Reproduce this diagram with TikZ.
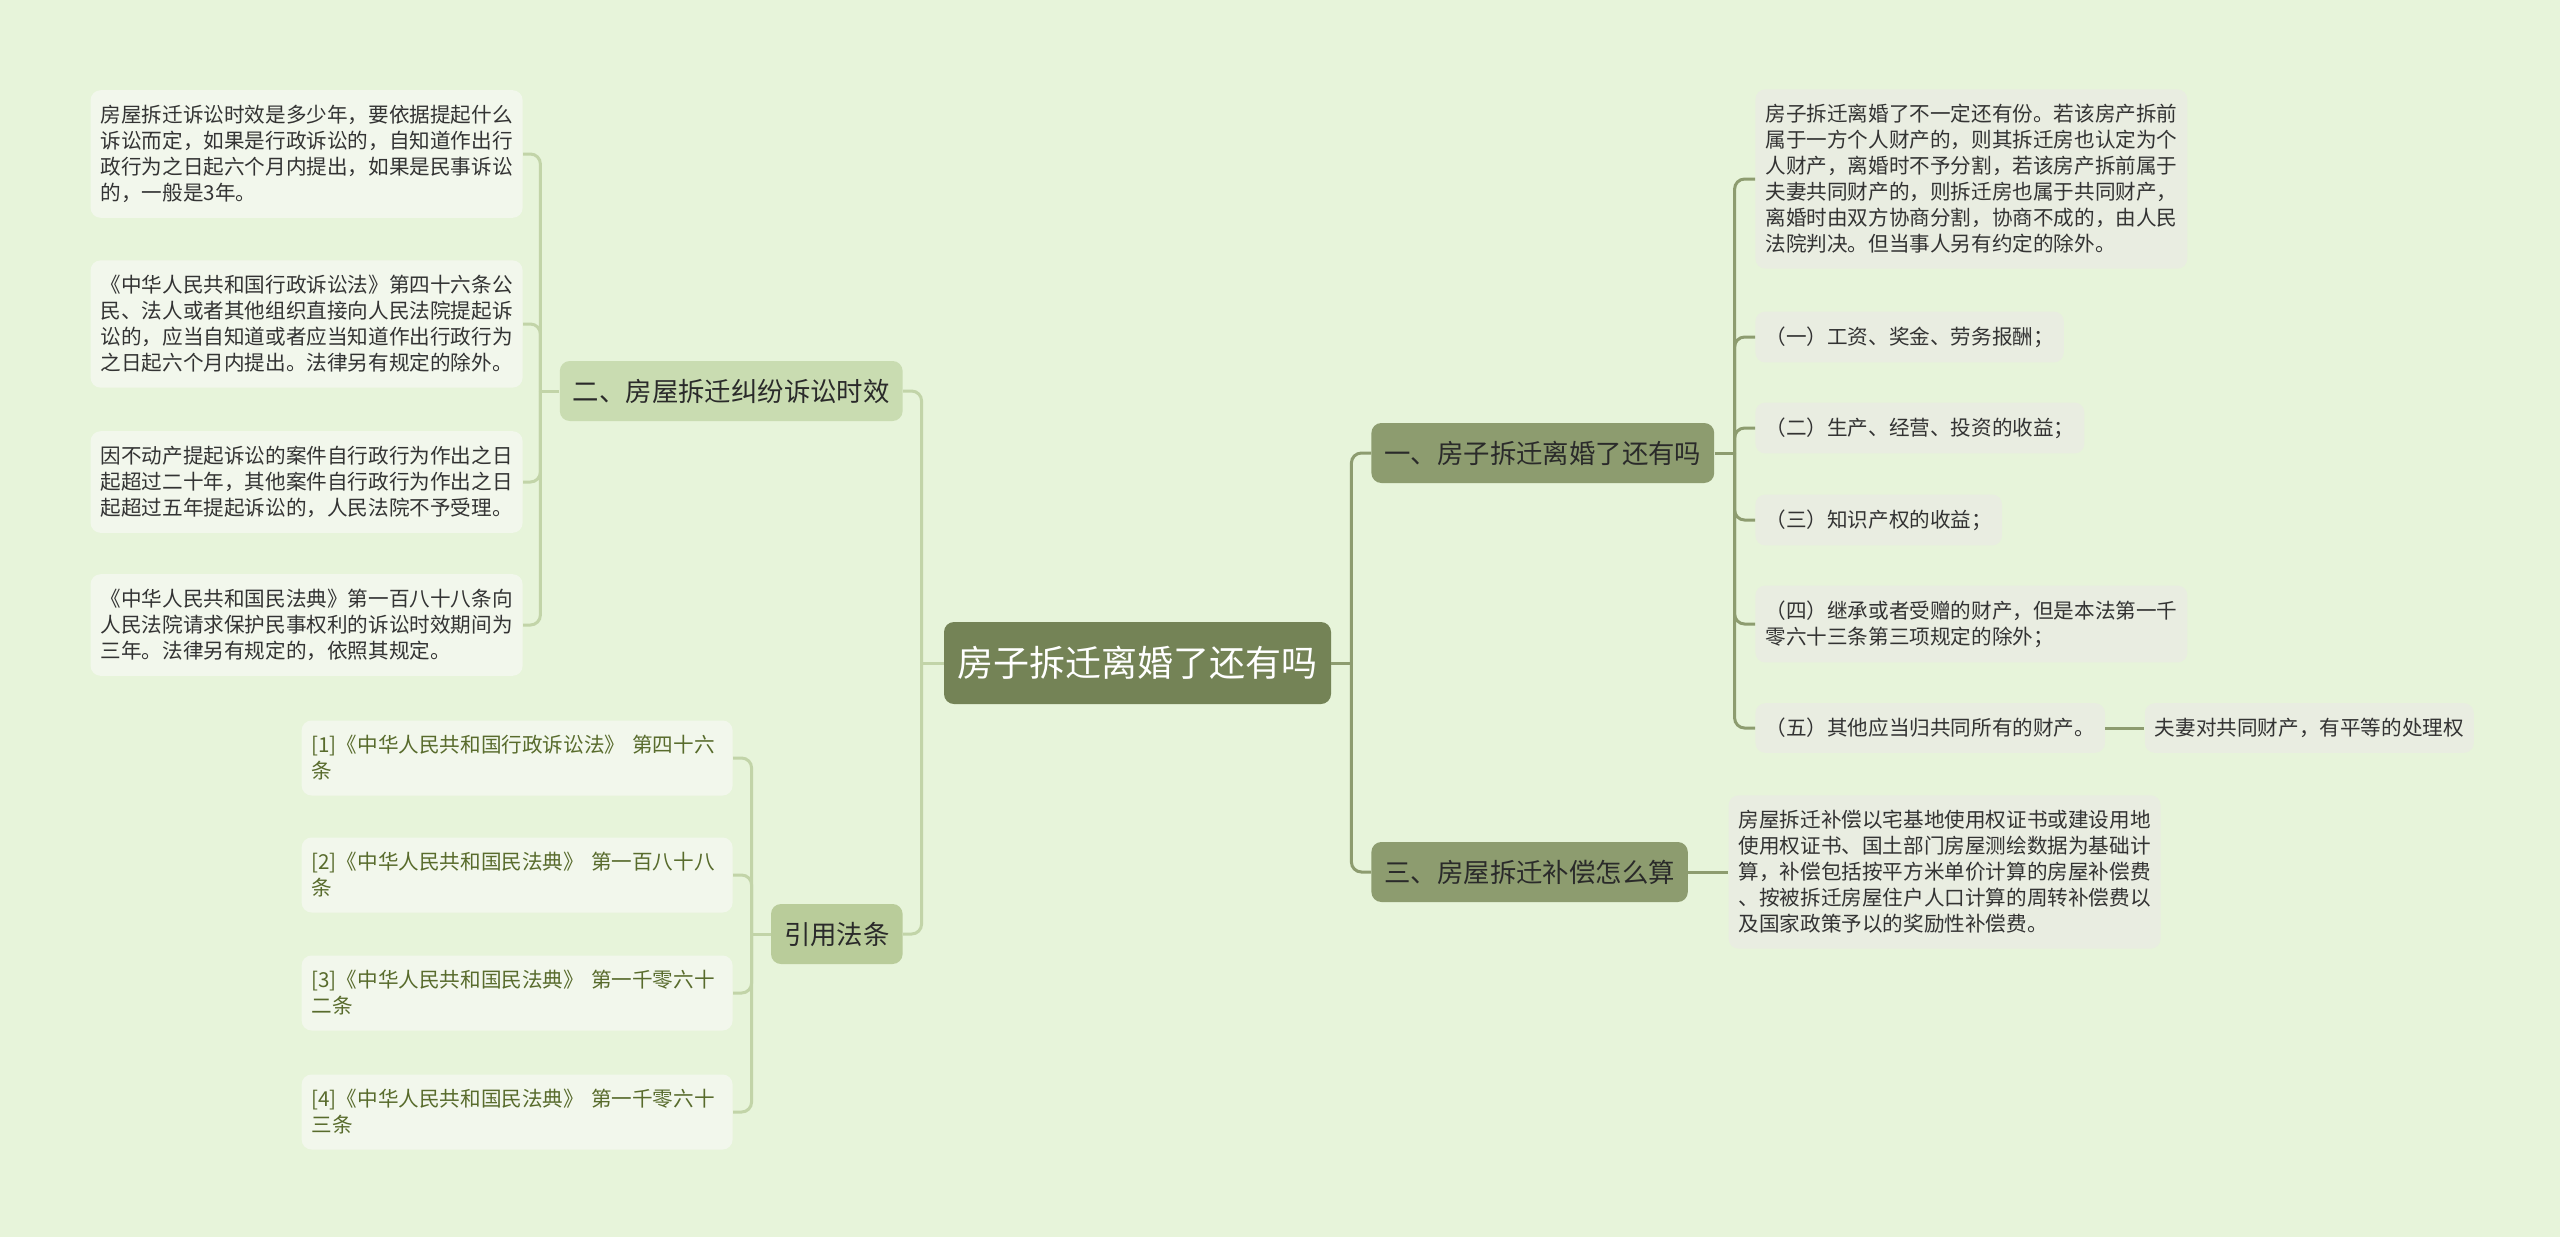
\documentclass[tikz,border=0pt]{standalone}
\usepackage{fontspec}
\setmainfont{Noto Sans CJK SC}
\usetikzlibrary{positioning}
\definecolor{pagebg}{HTML}{E7F4DA}
\definecolor{rootbg}{HTML}{748356}
\definecolor{topicbg}{HTML}{8D9C6F}
\definecolor{lefttopicbg}{HTML}{C9DCB1}
\definecolor{citetopicbg}{HTML}{B9CC9A}
\definecolor{leafbg}{HTML}{F2F7EC}
\definecolor{noteleafbg}{HTML}{E9EDE1}
\definecolor{topictext}{HTML}{2A2A2A}
\definecolor{leaftext}{HTML}{333333}
\definecolor{citetext}{HTML}{586B2C}
\definecolor{linkolive}{HTML}{8D9C6F}
\definecolor{linklight}{HTML}{C2D4A8}
\tikzset{
  box/.style={
    rounded corners=5pt,
    align=left,
    inner xsep=5pt,
    inner ysep=7.5pt,
    minimum height=24pt,
    text=leaftext,
    font=\fontsize{10.3}{13}\selectfont
  },
  rootbox/.style={
    box,
    fill=rootbg,
    text=white,
    align=center,
    inner xsep=0pt,
    minimum width=193.5pt,
    minimum height=41pt,
    font=\fontsize{18}{22}\selectfont
  },
  topicbox/.style={
    box,
    fill=topicbg,
    text=topictext,
    inner xsep=6.5pt,
    inner ysep=5pt,
    minimum height=30pt,
    font=\fontsize{13.2}{16}\selectfont
  },
  lefttopic/.style={
    topicbox,
    fill=lefttopicbg
  },
  citetopic/.style={
    topicbox,
    fill=citetopicbg
  },
  leafbox/.style={
    box,
    fill=leafbg
  },
  noteleaf/.style={
    box,
    fill=noteleafbg
  },
  citebox/.style={
    box,
    fill=leafbg,
    text=citetext,
    text width=205.5pt
  },
  link/.style={
    line width=1.5pt,
    draw=linkolive,
    rounded corners=5pt
  },
  softlink/.style={
    link,
    draw=linklight
  }
}

\begin{document}
\begin{tikzpicture}[x=0.5pt, y=-0.5pt]

\fill[pagebg] (0,0) rectangle (2560,1237);

\node[rootbox] (root) at (1137.5,663) {房子拆迁离婚了还有吗};

\node[topicbox, anchor=west] (marry) at (1371,453) {一、房子拆迁离婚了还有吗};
\node[topicbox, anchor=west] (comp) at (1371,872) {三、房屋拆迁补偿怎么算};
\node[lefttopic, anchor=east] (limit) at (903,391) {二、房屋拆迁纠纷诉讼时效};
\node[citetopic, anchor=east] (laws) at (903,934) {引用法条};

% left: time limits
\node[leafbox, anchor=east] (limitA) at (523,154) {
  房屋拆迁诉讼时效是多少年，要依据提起什么\\
  诉讼而定，如果是行政诉讼的，自知道作出行\\
  政行为之日起六个月内提出，如果是民事诉讼\\
  的，一般是3年。
};
\node[leafbox, anchor=east] (limitB) at (523,324) {
  《中华人民共和国行政诉讼法》第四十六条公\\
  民、法人或者其他组织直接向人民法院提起诉\\
  讼的，应当自知道或者应当知道作出行政行为\\
  之日起六个月内提出。法律另有规定的除外。
};
\node[leafbox, anchor=east] (limitC) at (523,482) {
  因不动产提起诉讼的案件自行政行为作出之日\\
  起超过二十年，其他案件自行政行为作出之日\\
  起超过五年提起诉讼的，人民法院不予受理。
};
\node[leafbox, anchor=east] (limitD) at (523,625) {
  《中华人民共和国民法典》第一百八十八条向\\
  人民法院请求保护民事权利的诉讼时效期间为\\
  三年。法律另有规定的，依照其规定。
};

% left: cited laws
\node[citebox, anchor=east] (lawA) at (733,758) {
  [1]《中华人民共和国行政诉讼法》 第四十六\\
  条
};
\node[citebox, anchor=east] (lawB) at (733,875) {
  [2]《中华人民共和国民法典》 第一百八十八\\
  条
};
\node[citebox, anchor=east] (lawC) at (733,993) {
  [3]《中华人民共和国民法典》 第一千零六十\\
  二条
};
\node[citebox, anchor=east] (lawD) at (733,1112) {
  [4]《中华人民共和国民法典》 第一千零六十\\
  三条
};

% right: property after divorce
\node[noteleaf, anchor=west] (shareA) at (1755,179) {
  房子拆迁离婚了不一定还有份。若该房产拆前\\
  属于一方个人财产的，则其拆迁房也认定为个\\
  人财产，离婚时不予分割，若该房产拆前属于\\
  夫妻共同财产的，则拆迁房也属于共同财产，\\
  离婚时由双方协商分割，协商不成的，由人民\\
  法院判决。但当事人另有约定的除外。
};
\node[noteleaf, anchor=west] (shareB) at (1755,337) {（一）工资、奖金、劳务报酬；};
\node[noteleaf, anchor=west] (shareC) at (1755,428) {（二）生产、经营、投资的收益；};
\node[noteleaf, anchor=west] (shareD) at (1755,520) {（三）知识产权的收益；};
\node[noteleaf, anchor=west] (shareE) at (1755,624) {
  （四）继承或者受赠的财产，但是本法第一千\\
  零六十三条第三项规定的除外；
};
\node[noteleaf, anchor=west] (shareF) at (1755,728) {（五）其他应当归共同所有的财产。};
\node[noteleaf, right=19.5pt of shareF] (equal) {夫妻对共同财产，有平等的处理权};

% right: compensation
\node[noteleaf, right=20pt of comp] (money) {
  房屋拆迁补偿以宅基地使用权证书或建设用地\\
  使用权证书、国土部门房屋测绘数据为基础计\\
  算，补偿包括按平方米单价计算的房屋补偿费\\
  、按被拆迁房屋住户人口计算的周转补偿费以\\
  及国家政策予以的奖励性补偿费。
};

\coordinate (rootL) at ([xshift=-11pt]root.west);
\coordinate (rootR) at ([xshift=10pt]root.east);
\coordinate (limitJ) at ([xshift=-9.5pt]limit.west);
\coordinate (lawsJ) at ([xshift=-9.5pt]laws.west);
\coordinate (marryJ) at ([xshift=10pt]marry.east);

\draw[softlink] (root.west) -- (rootL);
\draw[softlink] (rootL) |- (limit.east);
\draw[softlink] (rootL) |- (laws.east);
\draw[link] (root.east) -- (rootR);
\draw[link] (rootR) |- (marry.west);
\draw[link] (rootR) |- (comp.west);

\draw[softlink] (limit.west) -- (limitJ);
\foreach \leaf in {limitA, limitB, limitC, limitD}
  \draw[softlink] (limitJ) |- (\leaf.east);

\draw[softlink] (laws.west) -- (lawsJ);
\foreach \leaf in {lawA, lawB, lawC, lawD}
  \draw[softlink] (lawsJ) |- (\leaf.east);

\draw[link] (marry.east) -- (marryJ);
\foreach \leaf in {shareA, shareB, shareC, shareD, shareE, shareF}
  \draw[link] (marryJ) |- (\leaf.west);
\draw[link] (shareF) -- (equal);
\draw[link] (comp) -- (money);

\end{tikzpicture}
\end{document}
